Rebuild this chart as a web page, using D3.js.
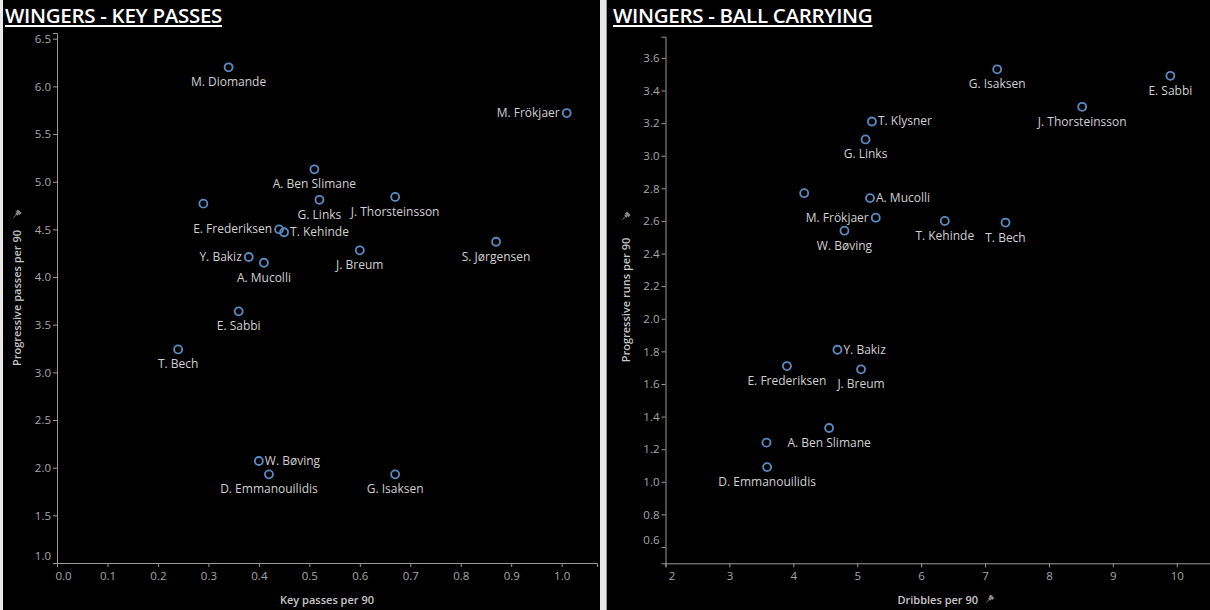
<html>
<head>
    <title>Wingers</title>
    <script type="text/javascript" src="https://cdn.jsdelivr.net/npm/d3@7/dist/d3.min.js"></script>
    <style>
        body { margin: 0; background-color: #e8e8e8; }
        .title { font-family: "Open Sans", sans-serif; font-weight: 600; font-size: 20.5px; fill: #ffffff; text-decoration: underline; letter-spacing: -0.3px; }
        .tick text { font-family: "Open Sans", sans-serif; font-size: 11.5px; fill: #a8a8a8; }
        .tick line, .domain { stroke: #9a9a9a; }
        .axis-title { font-family: "Open Sans", sans-serif; font-weight: 600; font-size: 11px; fill: #c8c8c8; }
        .lbl { font-family: "Open Sans", sans-serif; font-size: 12px; fill: #d0d0d0; }
    </style>
</head>
<body>
    <div id="chart"></div>
    <script>
        // key passes panel
        var kpNames = ["M. Diomande", "M. Frökjaer", "A. Ben Slimane", "G. Links", "J. Thorsteinsson", "T. Klysner",
                       "E. Frederiksen", "T. Kehinde", "Y. Bakiz", "A. Mucolli", "J. Breum", "S. Jørgensen",
                       "E. Sabbi", "T. Bech", "W. Bøving", "D. Emmanouilidis", "G. Isaksen"];
        var kpKeyPasses = [0.34, 1.01, 0.51, 0.52, 0.67, 0.29, 0.44, 0.45, 0.38, 0.41, 0.60, 0.87, 0.36, 0.24, 0.40, 0.42, 0.67];
        var kpProgPasses = [6.20, 5.72, 5.13, 4.81, 4.84, 4.77, 4.50, 4.47, 4.21, 4.15, 4.28, 4.37, 3.64, 3.24, 2.07, 1.93, 1.93];
        var kpLabelSide = ["b", "l", "b", "b", "b", "n", "l", "r", "l", "b", "b", "b", "b", "b", "r", "b", "b"];
        var kpXTicks = [0, 0.1, 0.2, 0.3, 0.4, 0.5, 0.6, 0.7, 0.8, 0.9, 1.0];
        var kpYTicks = [1.0, 1.5, 2.0, 2.5, 3.0, 3.5, 4.0, 4.5, 5.0, 5.5, 6.0, 6.5];

        // ball carrying panel
        var bcNames = ["G. Isaksen", "E. Sabbi", "J. Thorsteinsson", "T. Klysner", "G. Links", "M. Diomande",
                       "A. Mucolli", "M. Frökjaer", "W. Bøving", "T. Kehinde", "T. Bech", "Y. Bakiz",
                       "E. Frederiksen", "J. Breum", "A. Ben Slimane", "S. Jørgensen", "D. Emmanouilidis"];
        var bcDribbles = [7.19, 9.90, 8.52, 5.23, 5.13, 4.17, 5.20, 5.29, 4.80, 6.37, 7.32, 4.69, 3.90, 5.06, 4.56, 3.58, 3.59];
        var bcProgRuns = [3.53, 3.49, 3.30, 3.21, 3.10, 2.77, 2.74, 2.62, 2.54, 2.60, 2.59, 1.81, 1.71, 1.69, 1.33, 1.24, 1.09];
        var bcLabelSide = ["b", "b", "b", "r", "b", "n", "r", "l", "b", "b", "b", "r", "b", "b", "b", "n", "b"];
        var bcXTicks = [2, 3, 4, 5, 6, 7, 8, 9, 10];
        var bcYTicks = [0.6, 0.8, 1.0, 1.2, 1.4, 1.6, 1.8, 2.0, 2.2, 2.4, 2.6, 2.8, 3.0, 3.2, 3.4, 3.6];

        var width = 1210, height = 610;
        var pointColor = "#5b8cc4";

        var svg = d3.select("#chart").append("svg")
                    .attr("width", width)
                    .attr("height", height);

        svg.append("rect").attr("x", 3).attr("y", 0).attr("width", 597).attr("height", height).attr("fill", "#000");
        svg.append("rect").attr("x", 607).attr("y", 0).attr("width", width - 607).attr("height", height).attr("fill", "#000");
        svg.append("line").attr("x1", 606.5).attr("x2", 606.5).attr("y1", 0).attr("y2", height)
           .attr("stroke", "#9a9a9a");

        function pin(g, x, y, rot)
        {
            var p = g.append("g").attr("transform", "translate(" + x + "," + y + ") rotate(" + rot + ")")
                     .attr("fill", "#8a8a8a").attr("stroke", "#8a8a8a");
            p.append("rect").attr("x", -2.5).attr("y", -4).attr("width", 5).attr("height", 3).attr("stroke", "none");
            p.append("rect").attr("x", -1.5).attr("y", -1).attr("width", 3).attr("height", 2).attr("stroke", "none");
            p.append("line").attr("x1", 0).attr("x2", 0).attr("y1", 1).attr("y2", 5).attr("stroke-width", 0.8);
        }

        function drawPanel(cfg)
        {
            var g = svg.append("g");
            g.append("text").attr("class", "title").attr("x", cfg.left - 2).attr("y", 23).text(cfg.title);

            var x = d3.scaleLinear().domain(cfg.xDomain).range(cfg.xRange);
            var y = d3.scaleLinear().domain(cfg.yDomain).range(cfg.yRange);

            var xAxis = g.append("g")
                .attr("transform", "translate(0," + cfg.yRange[0] + ")")
                .call(d3.axisBottom(x).tickValues(cfg.xTicks).tickFormat(cfg.xFormat).tickSizeOuter(0).tickSize(4).tickPadding(5));
            var yAxis = g.append("g")
                .attr("transform", "translate(" + cfg.xRange[0] + ",0)")
                .call(d3.axisLeft(y).tickValues(cfg.yTicks).tickFormat(d3.format(".1f")).tickSizeOuter(0).tickSize(4).tickPadding(2));

            // first labels pushed inside like the original
            xAxis.selectAll(".tick").filter(function(d, i){ return i == 0; }).select("text").attr("dx", 6);
            yAxis.selectAll(".tick").filter(function(d, i){ return i == 0; }).select("text").attr("dy", "-0.3em");

            g.append("text").attr("class", "axis-title")
                .attr("x", (cfg.xRange[0] + cfg.xRange[1]) / 2)
                .attr("y", 604)
                .attr("text-anchor", "middle")
                .text(cfg.xTitle);
            var yMid = (cfg.yRange[0] + cfg.yRange[1]) / 2;
            g.append("text").attr("class", "axis-title")
                .attr("transform", "translate(" + cfg.yTitleX + "," + yMid + ") rotate(-90)")
                .attr("text-anchor", "middle")
                .text(cfg.yTitle);
            pin(g, cfg.yTitleX - 4, yMid - 84, 45);
            if(cfg.xPin) pin(g, (cfg.xRange[0] + cfg.xRange[1]) / 2 + 52, 599, 45);

            for(var i = 0; i < cfg.names.length; ++i)
            {
                var px = x(cfg.xs[i]), py = y(cfg.ys[i]);
                g.append("circle").attr("cx", px).attr("cy", py).attr("r", 4)
                    .attr("fill", "none").attr("stroke", pointColor).attr("stroke-width", 1.8);
                var side = cfg.sides[i];
                if(side == "n") continue;
                var t = g.append("text").attr("class", "lbl").text(cfg.names[i]);
                if(side == "b")
                    t.attr("x", px).attr("y", py + 19).attr("text-anchor", "middle");
                else if(side == "r")
                    t.attr("x", px + 6).attr("y", py + 4).attr("text-anchor", "start");
                else
                    t.attr("x", px - 7).attr("y", py + 4).attr("text-anchor", "end");
            }
        }

        drawPanel({
            title: "WINGERS - KEY PASSES",
            left: 7,
            names: kpNames, xs: kpKeyPasses, ys: kpProgPasses, sides: kpLabelSide,
            xDomain: [0, 1.07], xRange: [57, 597],
            yDomain: [1.0, 6.56], yRange: [563, 33],
            xTicks: kpXTicks, yTicks: kpYTicks, xFormat: d3.format(".1f"),
            xTitle: "Key passes per 90", yTitle: "Progressive passes per 90",
            yTitleX: 21, xPin: false
        });

        drawPanel({
            title: "WINGERS - BALL CARRYING",
            left: 615,
            names: bcNames, xs: bcDribbles, ys: bcProgRuns, sides: bcLabelSide,
            xDomain: [2, 10.52], xRange: [665.5, 1210],
            yDomain: [0.5, 3.73], yRange: [563.3, 36.7],
            xTicks: bcXTicks, yTicks: bcYTicks, xFormat: d3.format("d"),
            xTitle: "Dribbles per 90", yTitle: "Progressive runs per 90",
            yTitleX: 630, xPin: true
        });
    </script>
</body>
</html>
